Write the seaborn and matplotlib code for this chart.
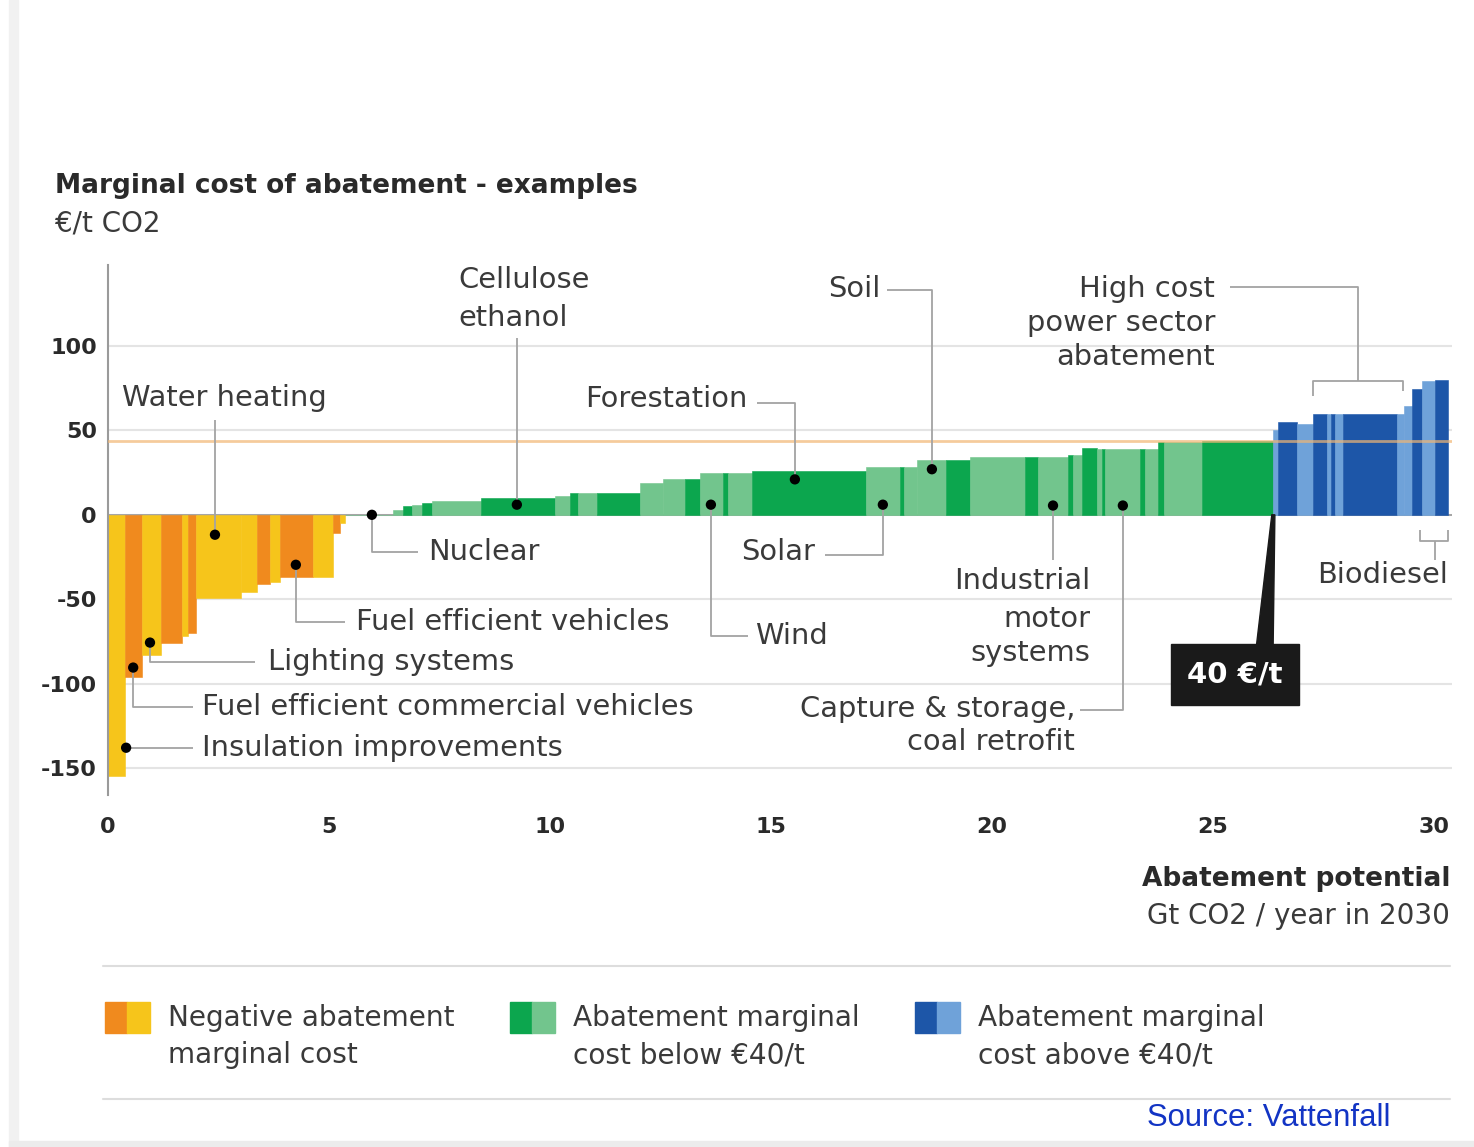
import pandas as pd
import seaborn as sns
import matplotlib.pyplot as plt
from matplotlib.lines import Line2D
from matplotlib.patches import Rectangle, Polygon

# right edge of each measure on the cumulative potential axis (Gt CO2 / year)
neg_edges = [0.38, 0.76, 1.21, 1.67, 1.82, 2.0, 3.02, 3.36, 3.67, 3.89, 4.64, 5.09, 5.25, 5.36]
neg_costs = [-155, -96, -83, -76, -72, -70, -49, -46, -41, -40, -37, -37, -11, -5]
neg_light = [1, 0, 1, 0, 1, 0, 1, 1, 0, 1, 0, 1, 0, 1]

green_edges = [6.45, 6.68, 6.87, 7.10, 7.32, 8.45, 10.11, 10.45, 10.64, 11.06, 12.04, 12.56,
               13.05, 13.39, 13.92, 14.03, 14.56, 17.16, 17.92, 18.01, 18.30, 18.97, 19.50,
               20.75, 21.05, 21.73, 21.84, 22.03, 22.37, 22.48, 22.56, 23.35, 23.46, 23.76,
               23.88, 24.74, 26.36]
green_costs = [0, 3, 5, 6, 7, 8.3, 10, 11, 13, 13, 13, 19, 21, 21, 25, 25, 25, 26, 28.5, 28.5,
               28.5, 32.5, 32.5, 34, 34, 34, 35.5, 35.5, 39.5, 39, 39, 39, 39, 39, 43, 43, 44]
green_light = [1, 1, 0, 1, 0, 1, 0, 1, 0, 1, 0, 1, 1, 0, 1, 0, 1, 0, 1, 0, 1, 1, 0, 1, 0, 1,
               0, 1, 0, 1, 0, 1, 0, 1, 0, 1, 0]

blue_edges = [26.48, 26.89, 27.27, 27.57, 27.68, 27.76, 27.93, 29.16, 29.31, 29.50, 29.72, 30.02, 30.32]
blue_costs = [50, 55, 54, 60, 60, 60, 60, 60, 60, 64.5, 74.5, 79, 80]
blue_light = [1, 0, 1, 0, 1, 0, 1, 0, 1, 1, 0, 1, 0]

threshold = 44  # drawn "40 €/t" line

# example measures marked with a dot
measure_names = ['Insulation improvements', 'Fuel efficient commercial vehicles', 'Lighting systems',
                 'Water heating', 'Fuel efficient vehicles', 'Nuclear', 'Cellulose ethanol', 'Wind',
                 'Forestation', 'Solar', 'Soil', 'Industrial motor systems', 'Capture & storage']
measure_x = [0.41, 0.57, 0.95, 2.42, 4.25, 5.97, 9.25, 13.64, 15.54, 17.53, 18.64, 21.38, 22.96]
measure_cost = [-138, -90.5, -75.7, -11.8, -29.6, 0, 6, 6, 21, 6, 27, 5.5, 5.5]

x_ticks = [0, 5, 10, 15, 20, 25, 30]
y_ticks = [-150, -100, -50, 0, 50, 100]

palette = {
    'neg': ('#F08A1E', '#F6C51B'),
    'green': ('#0CA64E', '#72C58D'),
    'blue': ('#1D56A8', '#6FA2D9'),
}

rows = []
start = 0.0
for group, edges, costs, light in [('neg', neg_edges, neg_costs, neg_light),
                                    ('green', green_edges, green_costs, green_light),
                                    ('blue', blue_edges, blue_costs, blue_light)]:
    for e, c, l in zip(edges, costs, light):
        rows.append({'left': start, 'width': e - start, 'cost': c,
                     'color': palette[group][l]})
        start = e
bars = pd.DataFrame(rows)

W, H = 1474, 1147
TXT = '#3a3a3a'
LEAD = '#a3a3a3'
FS = 20.8


def fx(px):
    return px / W


def fy(py):
    return 1 - py / H


sns.set_theme(style="white")
plt.rcParams['font.family'] = ['DejaVu Sans']

fig = plt.figure(figsize=(W / 100, H / 100), dpi=100)
ax = fig.add_axes([fx(108), fy(795), (1451.7 - 108) / W, (795 - 265) / H])

ax.bar(bars['left'], bars['cost'], width=bars['width'], align='edge',
       color=bars['color'], edgecolor=bars['color'], linewidth=0.4, zorder=2)
ax.axhline(0, color='#9a9a9a', lw=1.2, zorder=1)
ax.axhline(threshold, color='#F2B673', lw=2, alpha=0.7, zorder=3)

sns.scatterplot(x=measure_x, y=measure_cost, color='black', s=55, edgecolor='none',
                ax=ax, zorder=6)

ax.set_xlim(0, 30.4)
ax.set_ylim(-166, 148)
ax.set_xticks(x_ticks)
ax.set_yticks(y_ticks)
ax.set_xticklabels([str(t) for t in x_ticks], fontsize=16, fontweight='bold', color='#2a2a2a')
ax.set_yticklabels([str(t) for t in y_ticks], fontsize=16, fontweight='bold', color='#2a2a2a')
ax.tick_params(axis='x', length=0, pad=16)
ax.tick_params(axis='y', length=0, pad=8)
ax.yaxis.grid(True, color='#e4e4e4', lw=1.5, zorder=0)
ax.set_axisbelow(True)
for side in ['top', 'right', 'bottom']:
    ax.spines[side].set_visible(False)
ax.spines['left'].set_color('#9a9a9a')
ax.spines['left'].set_linewidth(1.5)


def leader(xs, ys):
    ax.plot(xs, ys, color=LEAD, lw=1.3, zorder=4, solid_capstyle='butt')


def note(lines, x, ys, ha='left'):
    for s, y in zip(lines, ys):
        ax.text(x, y, s, ha=ha, va='center', fontsize=FS, color=TXT, zorder=7)


note(['Water heating'], 0.32, [69.3])
leader([2.42, 2.42], [56.3, -11.8])

note(['Cellulose', 'ethanol'], 7.92, [139.2, 116.7])
leader([9.25, 9.25], [104.9, 6])

note(['Soil'], 17.47, [133.9], ha='right')
leader([17.62, 18.64, 18.64], [133.3, 133.3, 27])

note(['High cost', 'power sector', 'abatement'], 25.05, [133.9, 113.7, 93.6], ha='right')
leader([25.38, 28.28, 28.28], [135.0, 135.0, 79.4])
leader([27.26, 27.26, 29.30, 29.30], [70.5, 79.4, 79.4, 73.5])

note(['Forestation'], 14.46, [68.7], ha='right')
leader([14.68, 15.54, 15.54], [66.4, 66.4, 21])

note(['Nuclear'], 7.24, [-21.9])
leader([5.97, 5.97, 7.01], [0, -21.9, -21.9])

note(['Solar'], 14.32, [-21.9])
leader([16.22, 17.53, 17.53], [-23.7, -23.7, 6])

note(['Industrial', 'motor', 'systems'], 22.22, [-39.1, -61.6, -81.8], ha='right')
leader([21.38, 21.38], [5.5, -26.6])

note(['Biodiesel'], 30.32, [-35.5], ha='right')
leader([29.68, 29.68, 30.32, 30.32], [-9, -15.4, -15.4, -9])
leader([30.02, 30.02], [-15.4, -26.7])

note(['Fuel efficient vehicles'], 5.61, [-63.4])
leader([4.25, 4.25, 5.36], [-29.6, -63.4, -63.4])

note(['Wind'], 14.64, [-71.7])
leader([13.64, 13.64, 14.48], [6, -71.7, -71.7])

note(['Lighting systems'], 3.62, [-87.1])
leader([0.95, 0.95, 3.33], [-75.7, -87.1, -87.1])

note(['Fuel efficient commercial vehicles'], 2.13, [-113.7])
leader([0.57, 0.57, 1.92], [-90.5, -113.7, -113.7])

note(['Insulation improvements'], 2.13, [-138])
leader([0.41, 1.92], [-138, -138])

note(['Capture & storage,', 'coal retrofit'], 21.88, [-114.9, -134.5], ha='right')
leader([21.99, 22.96, 22.96], [-115.5, -115.5, 5.5])

# 40 €/t callout
ax.add_patch(Polygon([(26.33, 0), (26.40, 0), (26.36, -78), (25.98, -78)],
                     closed=True, color='#1a1a1a', zorder=7))
ax.text(25.5, -94.8, '40 €/t', ha='center', va='center', fontsize=21, fontweight='bold',
        color='white', zorder=8,
        bbox=dict(boxstyle='square,pad=0.57', fc='#1a1a1a', ec='#1a1a1a'))

# titles
fig.text(fx(55), fy(186), 'Marginal cost of abatement - examples', fontsize=19,
         fontweight='bold', color='#2a2a2a', va='center')
fig.text(fx(55), fy(223), '€/t CO2', fontsize=20, color=TXT, va='center')
fig.text(fx(1450), fy(879), 'Abatement potential', fontsize=19, fontweight='bold',
         color='#2a2a2a', ha='right', va='center')
fig.text(fx(1450), fy(916), 'Gt CO2 / year in 2030', fontsize=20, color=TXT,
         ha='right', va='center')

# legend
for y in [966, 1099]:
    fig.add_artist(Line2D([fx(103), fx(1450)], [fy(y), fy(y)], color='#dddddd', lw=1.5))
legend_items = [(105, 'neg', ['Negative abatement', 'marginal cost']),
                (510, 'green', ['Abatement marginal', 'cost below €40/t']),
                (915, 'blue', ['Abatement marginal', 'cost above €40/t'])]
for x0, group, lines in legend_items:
    dark, light = palette[group]
    fig.add_artist(Rectangle((fx(x0), fy(1033)), 22 / W, 31 / H, color=dark,
                             transform=fig.transFigure))
    fig.add_artist(Rectangle((fx(x0 + 22), fy(1033)), 23 / W, 31 / H, color=light,
                             transform=fig.transFigure))
    fig.text(fx(x0 + 63), fy(1018), lines[0], fontsize=20.2, color=TXT, va='center')
    fig.text(fx(x0 + 63), fy(1055), lines[1], fontsize=20.2, color=TXT, va='center')

fig.text(fx(1147), fy(1118), 'Source: Vattenfall', fontsize=22.3, color='#1234c4',
         family=['Liberation Sans', 'DejaVu Sans'], va='center')

# page edge shading
fig.add_artist(Rectangle((fx(9), 0), 9 / W, 1, color='#f1f1f1', transform=fig.transFigure))
fig.add_artist(Rectangle((fx(9), 0), 1, 6 / H, color='#ececec', transform=fig.transFigure))

fig.savefig('out.png', dpi=100)
plt.close('all')
